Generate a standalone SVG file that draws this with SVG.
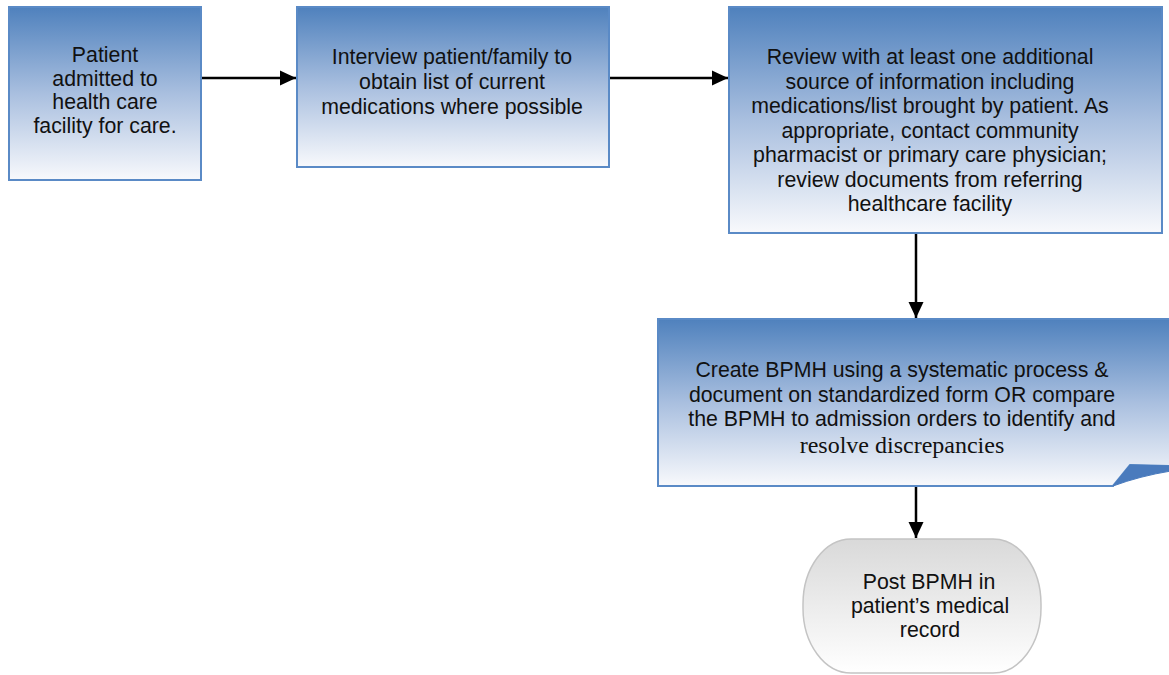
<svg xmlns="http://www.w3.org/2000/svg" width="1169" height="675" viewBox="0 0 1169 675">
<defs>
<linearGradient id="gBlue" x1="0" y1="0" x2="0" y2="1">
<stop offset="0" stop-color="#4f81bd"/>
<stop offset="0.5" stop-color="#a9bfdf"/>
<stop offset="1" stop-color="#f8f9fc"/>
</linearGradient>
<linearGradient id="gGrey" x1="0" y1="0" x2="0" y2="1">
<stop offset="0" stop-color="#d9d9d9"/>
<stop offset="1" stop-color="#ffffff"/>
</linearGradient>
<marker id="arr" markerUnits="userSpaceOnUse" markerWidth="16" markerHeight="16" refX="16" refY="8" orient="auto">
<path d="M0,0.5 L16,8 L0,15.5 Z" fill="#000"/>
</marker>
<style>
.box{fill:url(#gBlue);stroke:#5a8ac6;stroke-width:2}
.term{fill:url(#gGrey);stroke:#c4c4c4;stroke-width:1.5}
.t{font-family:"Liberation Sans",Arial,sans-serif;font-size:21.3px;fill:#111;text-anchor:middle}
.ts{font-family:"Liberation Serif","Times New Roman",serif;font-size:24px;fill:#111;text-anchor:middle}
.c{fill:none;stroke:#000;stroke-width:2.5;marker-end:url(#arr)}
</style>
</defs>
<g id="connectors">
<line class="c" x1="201" y1="78" x2="296" y2="78"/>
<line class="c" x1="609" y1="78" x2="728" y2="78"/>
<line class="c" x1="916" y1="233" x2="916" y2="318"/>
<line class="c" x1="916" y1="486" x2="916" y2="538"/>
</g>
<g id="n1">
<rect class="box" x="9" y="7" width="192" height="173"/>
<text class="t" x="105"><tspan x="105" y="62">Patient</tspan><tspan x="105" y="86">admitted to</tspan><tspan x="105" y="109">health care</tspan><tspan x="105" y="133">facility for care.</tspan></text>
</g>
<g id="n2">
<rect class="box" x="297" y="7" width="312" height="160"/>
<text class="t" x="452"><tspan x="452" y="64">Interview patient/family to</tspan><tspan x="452" y="89">obtain list of current</tspan><tspan x="452" y="114">medications where possible</tspan></text>
</g>
<g id="n3">
<rect class="box" x="729" y="7" width="433" height="226"/>
<text class="t" x="930"><tspan x="930" y="64">Review with at least one additional</tspan><tspan x="930" y="88.5">source of information including</tspan><tspan x="930" y="113">medications/list brought by patient. As</tspan><tspan x="930" y="137.5">appropriate, contact community</tspan><tspan x="930" y="162">pharmacist or primary care physician;</tspan><tspan x="930" y="186.5">review documents from referring</tspan><tspan x="930" y="211">healthcare facility</tspan></text>
</g>
<g id="n4">
<path class="box" d="M658,319 H1171 V466 L1130,465 L1113,486 H658 Z"/>
<path d="M1113,486 L1130,465 L1171,466 V471 Q1140,476 1113,486 Z" fill="#4a7bbd" stroke="#4a7bbd" stroke-width="1"/>
<text class="t" x="902"><tspan x="902" y="377">Create BPMH using a systematic process &amp;</tspan><tspan x="902" y="401.5">document on standardized form OR compare</tspan><tspan x="902" y="426">the BPMH to admission orders to identify and</tspan></text>
<text class="ts" x="902" y="453">resolve discrepancies</text>
</g>
<g id="n5">
<rect class="term" x="803" y="539" width="238" height="134" rx="48" ry="65"/>
<text class="t" x="930"><tspan x="929" y="589">Post BPMH in</tspan><tspan x="930" y="613">patient’s medical</tspan><tspan x="930" y="637">record</tspan></text>
</g>
</svg>
